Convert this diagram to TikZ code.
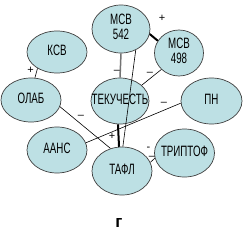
\documentclass[tikz,border=0pt]{standalone}
\usepackage{fontspec}
\setmainfont[FakeStretch=0.65]{Liberation Sans}
\newfontfamily\signfont{Liberation Sans}
\usetikzlibrary{shapes.geometric}
\definecolor{cellfill}{RGB}{189,224,228}
\newcommand{\ctext}[1]{\makebox[0pt]{\begin{tabular}{@{}c@{}}#1\end{tabular}}}
\begin{document}
\begin{tikzpicture}[x=1pt, y=-1pt]
    \tikzset{cell/.style={ellipse, draw=black!75, line width=0.7pt, fill=cellfill,
                          inner sep=0pt, font=\fontsize{15}{15}\selectfont},
             link/.style={line width=0.6pt},
             boldlink/.style={line width=2pt},
             sign/.style={inner sep=0pt, font=\signfont\fontsize{11}{11}\selectfont}}
    \useasboundingbox (0,0) rectangle (243,244);
    % variables
    \foreach \n/\x/\y/\w/\h/\t in {m542/121/29/58/48/{МСВ\\542}, m498/179/53/49/46/{МСВ\\498},
        ksv/57/52/60/42/КСВ, olab/31/100/60/44/ОЛАБ, tek/120/101/58/46/ТЕКУЧЕСТЬ,
        pn/211.5/101/61/46/ПН, aans/57/150/60/46/ААНС, tafl/122/171/60/48/ТАФЛ,
        trip/184.5/153/60/48/ТРИПТОФ} {
      \node[cell, minimum width=\w, minimum height=\h] (\n) at (\x,\y) {\ctext{\t}};
    }
    % links
    \draw[link] (ksv.-140) -- (olab.80);
    \draw[boldlink] (m542.-10) -- (m498.150);
    \draw[line width=1.5pt, black!55] (m542.south) -- (tek.north);
    \draw[link] (m498.-137) -- (tek.36);
    \draw[link] (m542.-55) -- (tafl.88);
    \draw[boldlink] (tek.-95) -- (tafl.97);
    \draw[link] (olab.-13) -- (tafl.117);
    \draw[link] (aans.14) -- (pn.184);
    \draw[link] (tafl.17) -- (trip.190);
    % signs
    \foreach \s/\x/\y [count=\i] in {+/30.5/70, +/162/18, –/117/72, –/150/74, –/81/117,
        –/164/104, +/112/136, -/148.5/149, –/152/158} {
      \node[sign] (s\i) at (\x,\y) {\s};
    }
    \node[font=\signfont\bfseries\fontsize{17}{17}\selectfont] (cap) at (119,223) {г};
\end{tikzpicture}
\end{document}
